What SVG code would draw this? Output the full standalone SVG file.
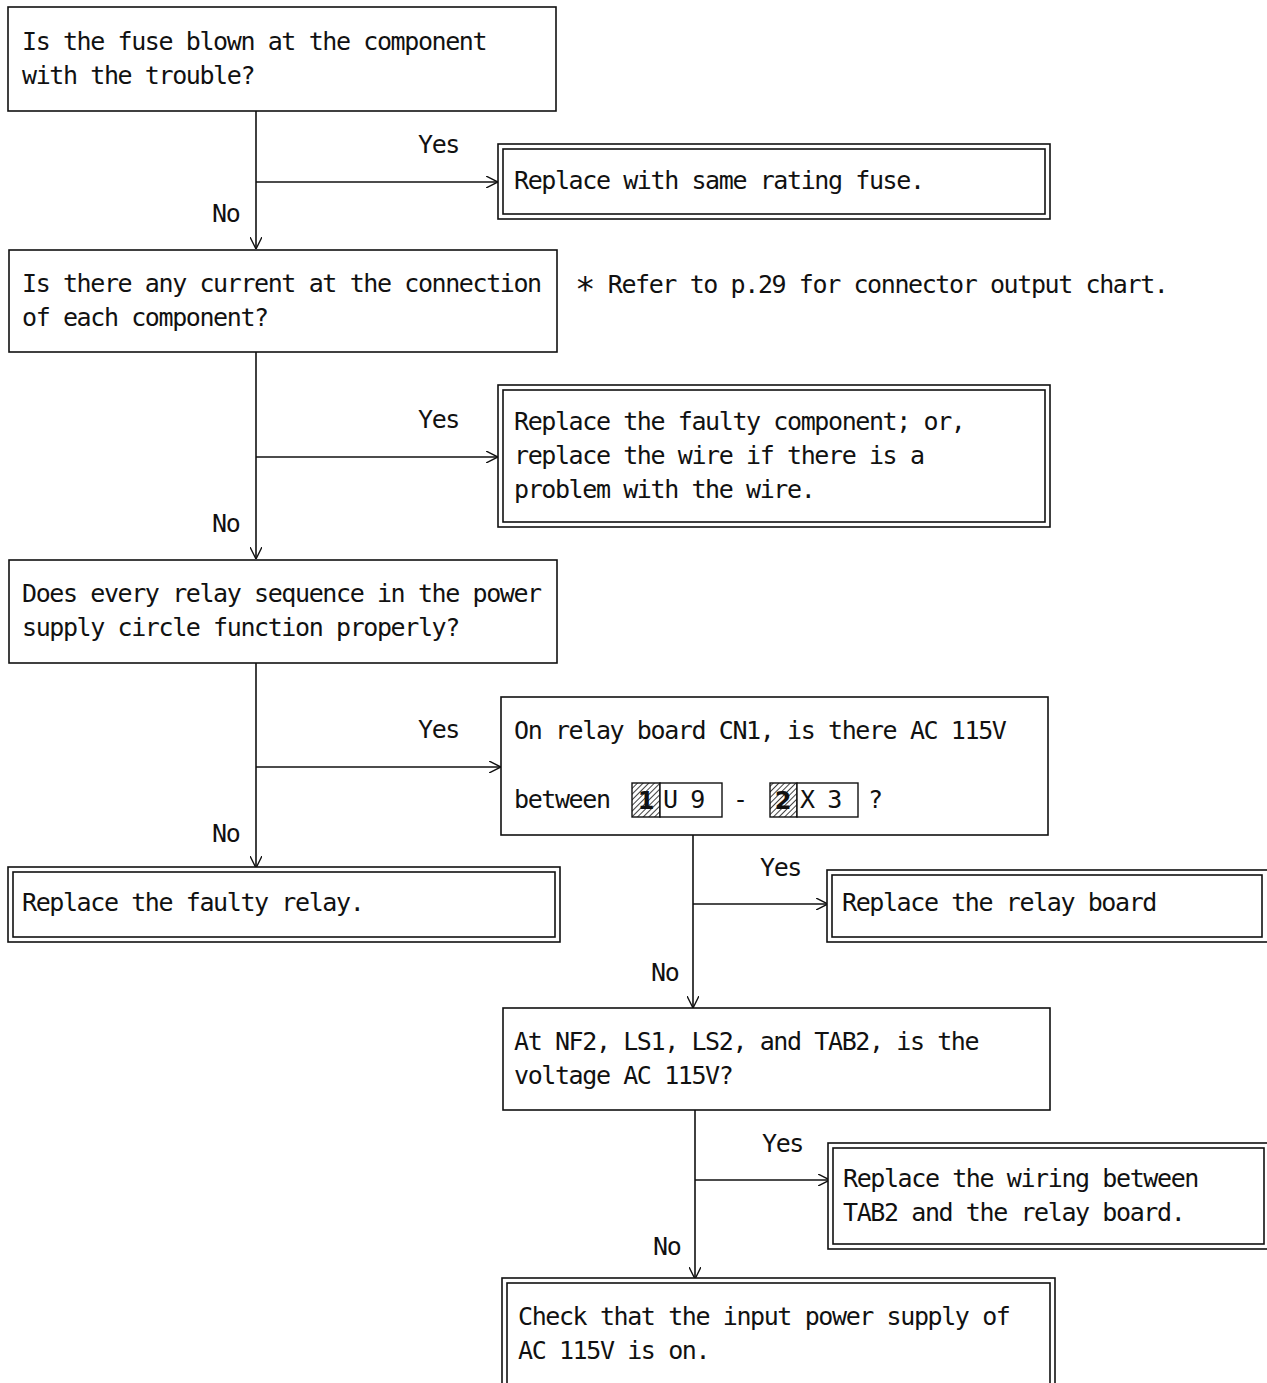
<svg xmlns="http://www.w3.org/2000/svg" width="1267" height="1383" viewBox="0 0 1267 1383">
<style>
.b{fill:#fff;stroke:#111;stroke-width:1.6}
.t{font-family:"DejaVu Sans Mono","Liberation Mono",monospace;font-size:25px;letter-spacing:-1.4px;fill:#111}
.c{fill:none;stroke:#111;stroke-width:1.6}
.d{font-family:"DejaVu Sans","Liberation Sans",sans-serif;font-size:24px;font-weight:bold;fill:#111}
</style>
<defs>
<marker id="a" viewBox="0 0 12 12" refX="12" refY="6" markerWidth="12" markerHeight="12" markerUnits="userSpaceOnUse" orient="auto">
<path d="M0,0 L12,6 L0,12" fill="none" stroke="#111" stroke-width="1.4"/>
</marker>
<pattern id="h" width="4" height="4" patternUnits="userSpaceOnUse" patternTransform="rotate(45)">
<rect width="4" height="4" fill="#fff"/>
<line x1="0" y1="0" x2="0" y2="4" stroke="#111" stroke-width="1.6"/>
</pattern>
</defs>
<rect width="1267" height="1383" fill="#fff"/>

<g id="connectors">
<line class="c" x1="256" y1="111" x2="256" y2="249" marker-end="url(#a)"/>
<line class="c" x1="256" y1="182" x2="498" y2="182" marker-end="url(#a)"/>
<line class="c" x1="256" y1="352" x2="256" y2="559" marker-end="url(#a)"/>
<line class="c" x1="256" y1="457" x2="498" y2="457" marker-end="url(#a)"/>
<line class="c" x1="256" y1="663" x2="256" y2="868" marker-end="url(#a)"/>
<line class="c" x1="256" y1="767" x2="501" y2="767" marker-end="url(#a)"/>
<line class="c" x1="693" y1="835" x2="693" y2="1008" marker-end="url(#a)"/>
<line class="c" x1="693" y1="904" x2="828" y2="904" marker-end="url(#a)"/>
<line class="c" x1="695" y1="1110" x2="695" y2="1279" marker-end="url(#a)"/>
<line class="c" x1="695" y1="1180" x2="830" y2="1180" marker-end="url(#a)"/>
<text class="t" x="418" y="153">Yes</text>
<text class="t" x="212" y="222">No</text>
<text class="t" x="418" y="428">Yes</text>
<text class="t" x="212" y="532">No</text>
<text class="t" x="418" y="738">Yes</text>
<text class="t" x="212" y="842">No</text>
<text class="t" x="760" y="876">Yes</text>
<text class="t" x="651" y="981">No</text>
<text class="t" x="762" y="1152">Yes</text>
<text class="t" x="653" y="1255">No</text>
</g>

<g id="n1">
<rect class="b" x="8" y="7" width="548" height="104"/>
<text class="t" x="22" y="50">Is the fuse blown at the component</text>
<text class="t" x="22" y="84">with the trouble?</text>
</g>

<g id="n2">
<rect class="b" x="498" y="144" width="552" height="75"/>
<rect class="b" x="503" y="149" width="542" height="65"/>
<text class="t" x="514" y="189">Replace with same rating fuse.</text>
</g>

<g id="n3">
<rect class="b" x="9" y="250" width="548" height="102"/>
<text class="t" x="22" y="292">Is there any current at the connection</text>
<text class="t" x="22" y="326">of each component?</text>
</g>

<g id="note">
<text class="t" x="575" y="293"><tspan style="font-size:34px" dy="8">*</tspan><tspan dy="-8"> Refer to p.29 for connector output chart.</tspan></text>
</g>

<g id="n4">
<rect class="b" x="498" y="385" width="552" height="142"/>
<rect class="b" x="503" y="390" width="542" height="132"/>
<text class="t" x="514" y="430">Replace the faulty component; or,</text>
<text class="t" x="514" y="464">replace the wire if there is a</text>
<text class="t" x="514" y="498">problem with the wire.</text>
</g>

<g id="n5">
<rect class="b" x="9" y="560" width="548" height="103"/>
<text class="t" x="22" y="602">Does every relay sequence in the power</text>
<text class="t" x="22" y="636">supply circle function properly?</text>
</g>

<g id="n6">
<rect class="b" x="501" y="697" width="547" height="138"/>
<text class="t" x="514" y="739">On relay board CN1, is there AC 115V</text>
<text class="t" x="514" y="808">between</text>
<rect x="632" y="783" width="28" height="34" fill="url(#h)" stroke="#111" stroke-width="1.4"/>
<text class="d" x="646" y="809" text-anchor="middle">1</text>
<rect x="660" y="783" width="62" height="34" fill="#fff" stroke="#111" stroke-width="1.4"/>
<text class="t" x="663" y="808">U 9</text>
<text class="t" x="733" y="808">-</text>
<rect x="770" y="783" width="27" height="34" fill="url(#h)" stroke="#111" stroke-width="1.4"/>
<text class="d" x="783" y="809" text-anchor="middle">2</text>
<rect x="797" y="783" width="61" height="34" fill="#fff" stroke="#111" stroke-width="1.4"/>
<text class="t" x="800" y="808">X 3</text>
<text class="t" x="868" y="808">?</text>
</g>

<g id="n7">
<rect class="b" x="8" y="867" width="552" height="75"/>
<rect class="b" x="13" y="872" width="542" height="65"/>
<text class="t" x="22" y="911">Replace the faulty relay.</text>
</g>

<g id="n8">
<rect class="b" x="827" y="870" width="445" height="72"/>
<rect class="b" x="832" y="875" width="430" height="62"/>
<text class="t" x="842" y="911">Replace the relay board</text>
</g>

<g id="n9">
<rect class="b" x="503" y="1008" width="547" height="102"/>
<text class="t" x="514" y="1050">At NF2, LS1, LS2, and TAB2, is the</text>
<text class="t" x="514" y="1084">voltage AC 115V?</text>
</g>

<g id="n10">
<rect class="b" x="828" y="1143" width="445" height="106"/>
<rect class="b" x="833" y="1148" width="431" height="96"/>
<text class="t" x="843" y="1187">Replace the wiring between</text>
<text class="t" x="843" y="1221">TAB2 and the relay board.</text>
</g>

<g id="n11">
<rect class="b" x="502" y="1278" width="553" height="120"/>
<rect class="b" x="507" y="1283" width="543" height="110"/>
<text class="t" x="518" y="1325">Check that the input power supply of</text>
<text class="t" x="518" y="1359">AC 115V is on.</text>
</g>
</svg>
